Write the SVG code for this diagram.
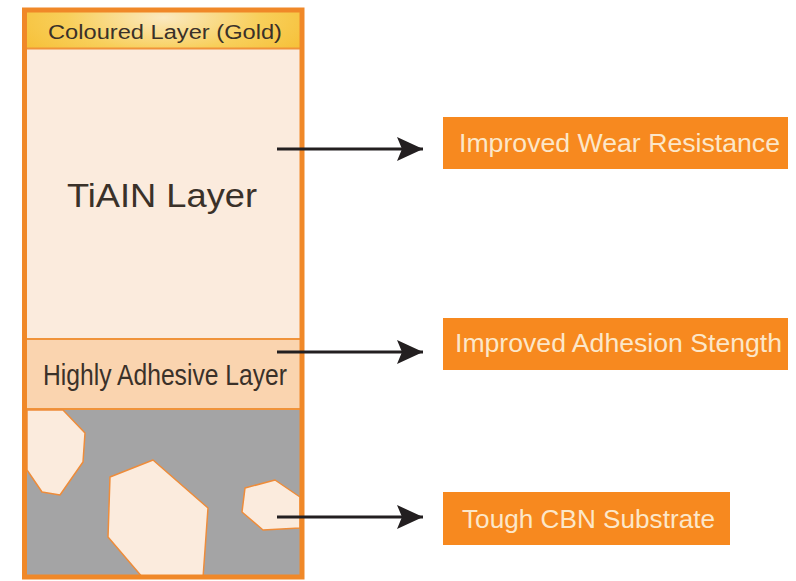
<svg xmlns="http://www.w3.org/2000/svg" width="796" height="581" viewBox="0 0 796 581">
<defs>
<radialGradient id="gold" cx="0.5" cy="0.2" r="0.7" gradientTransform="translate(0.5 0.2) scale(1 2.5) translate(-0.5 -0.2)">
<stop offset="0" stop-color="#FBE9C0"/>
<stop offset="0.5" stop-color="#F8CF5A"/>
<stop offset="1" stop-color="#F5B928"/>
</radialGradient>
<marker id="ah" viewBox="0 0 26 24" refX="26" refY="12" markerWidth="26" markerHeight="24" markerUnits="userSpaceOnUse" orient="auto">
<path d="M0,0 L26,12 L0,24 L5,12 Z" fill="#231F20"/>
</marker>
<style>
.dark{font-family:"Liberation Sans",Arial,sans-serif;fill:#3A3129}
.lbl{font-family:"Liberation Sans",Arial,sans-serif;fill:#FCE7C9;font-size:25px}
.box{fill:#F7891F}
.grain{fill:#FBEBDD;stroke:#EE8C3A;stroke-width:1.5;stroke-linejoin:round}
.div{stroke:#F0933A;stroke-width:2}
.conn{stroke:#231F20;stroke-width:3;fill:none}
</style>
</defs>
<rect width="796" height="581" fill="#FFFFFF"/>
<g id="stack">
<rect x="25" y="10" width="277" height="38" fill="url(#gold)"/>
<rect x="25" y="49" width="277" height="290" fill="#FBEBDD"/>
<rect x="25" y="339" width="277" height="70" fill="#FAD4AF"/>
<rect x="25" y="409" width="277" height="168" fill="#A4A4A5"/>
<line class="div" x1="25" y1="48.5" x2="302" y2="48.5"/>
<line class="div" x1="25" y1="339" x2="302" y2="339"/>
<line class="div" x1="25" y1="409" x2="302" y2="409"/>
</g>
<g id="grains">
<polygon class="grain" points="27,410 63,410 85,433 83,462 60,495 42,492 27,470"/>
<polygon class="grain" points="153,460 208,508 203,578 143,578 108,537 110,477"/>
<polygon class="grain" points="275,480 300,497 300,528 263,530 242,512 245,488"/>
</g>
<rect x="24.5" y="10" width="277.5" height="567" fill="none" stroke="#F08828" stroke-width="5"/>
<g id="layer-gold"><text class="dark" x="165" y="39" font-size="20" text-anchor="middle" textLength="234" lengthAdjust="spacingAndGlyphs">Coloured Layer (Gold)</text></g>
<g id="layer-tialn"><text class="dark" x="162" y="207" font-size="33" text-anchor="middle" textLength="190" lengthAdjust="spacingAndGlyphs">TiAIN Layer</text></g>
<g id="layer-adhesive"><text class="dark" x="165" y="385" font-size="30" text-anchor="middle" textLength="244" lengthAdjust="spacingAndGlyphs">Highly Adhesive Layer</text></g>
<g id="connectors">
<line class="conn" x1="277" y1="149" x2="423" y2="149" marker-end="url(#ah)"/>
<line class="conn" x1="277" y1="352" x2="423" y2="352" marker-end="url(#ah)"/>
<line class="conn" x1="277" y1="517" x2="423" y2="517" marker-end="url(#ah)"/>
</g>
<g id="wear">
<rect class="box" x="443" y="117" width="345" height="52"/>
<text class="lbl" x="459" y="152" textLength="321" lengthAdjust="spacingAndGlyphs">Improved Wear Resistance</text>
</g>
<g id="adhesion">
<rect class="box" x="443" y="318" width="345" height="52"/>
<text class="lbl" x="455" y="352" textLength="327" lengthAdjust="spacingAndGlyphs">Improved Adhesion Stength</text>
</g>
<g id="substrate">
<rect class="box" x="443" y="492" width="287" height="53"/>
<text class="lbl" x="462" y="528" textLength="253" lengthAdjust="spacingAndGlyphs">Tough CBN Substrate</text>
</g>
</svg>
